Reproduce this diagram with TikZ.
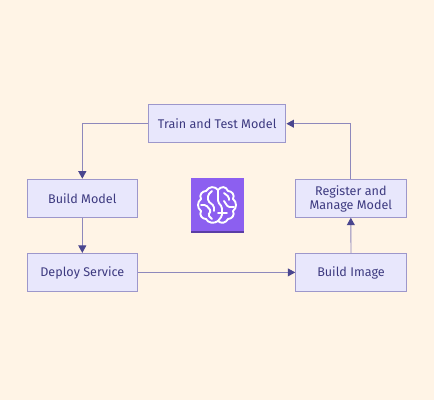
\documentclass[tikz,border=0pt]{standalone}
\usepackage{fontspec}
\setmainfont{Fira Sans}
\usetikzlibrary{arrows.meta}
\definecolor{bgc}{HTML}{FFF4E6}
\definecolor{boxf}{HTML}{E8E7FC}
\definecolor{boxs}{HTML}{9D97CB}
\definecolor{txtc}{HTML}{3D3A80}
\definecolor{linec}{HTML}{8E88BC}
\definecolor{tipc}{HTML}{4A468F}
\definecolor{iconf}{HTML}{8C5FF0}
\definecolor{icond}{HTML}{5A3DA6}
\newcommand{\lowstrut}{\rule[-0.5bp]{0pt}{11.5bp}}
\tikzset{
  x=1bp,y=-1bp,
  flowbox/.style={draw=boxs,fill=boxf,line width=1bp,text=txtc,minimum width=110.5bp,minimum height=38bp,inner sep=0pt,align=center,font=\fontsize{12.6bp}{14.5bp}\selectfont},
  link/.style={draw=linec,line width=0.9bp,-{Triangle[length=7.5bp,width=8bp,color=tipc]}},
  brain/.style={draw=white,line width=1.9bp,line cap=round,line join=round,rounded corners=1.5bp}
}
\begin{document}
\begin{tikzpicture}
\useasboundingbox (0,0) rectangle (434,400);
\fill[bgc] (0,0) rectangle (434,400);
\node[flowbox,minimum width=137.5bp] (train) at (217.2,123.7) {\lowstrut Train and Test Model};
\node[flowbox] (bm) at (82.3,198.2) {\lowstrut Build Model};
\node[flowbox] (ds) at (82.3,272.4) {\lowstrut Deploy Service};
\node[flowbox] (rm) at (350.8,198.2) {\rule{0pt}{11.5bp}Register and\\Manage Model};
\node[flowbox] (bi) at (351,272.4) {\lowstrut Build Image};
\draw[link] (train.west) -| (bm.north);
\draw[link] (bm.south) -- (ds.north);
\draw[link] (ds.east) -- (bi.west);
\draw[link] (bi.north) -- (rm.south);
\draw[link] (rm.north) |- (train.east);
\fill[iconf] (190.5,178) rectangle (243.5,231);
\fill[icond] (190.5,231) rectangle (243.5,233);
\begin{scope}[brain]
\draw[rounded corners=0pt] (218,190) .. controls (215,186) and (209,186) .. (206,191)
  .. controls (202,191) and (199,195) .. (201,199)
  .. controls (197,202) and (197,208) .. (201,211)
  .. controls (199,215) and (202,219) .. (206,219)
  .. controls (208,223) and (214,224) .. (218,221)
  .. controls (221,224) and (226,223) .. (228,219)
  .. controls (232,219) and (235,215) .. (233,211)
  .. controls (237,208) and (237,202) .. (233,199)
  .. controls (235,195) and (232,191) .. (228,191)
  .. controls (226,186) and (221,186) .. (218,190);
\draw (212,191) -- (208,195) -- (208,201) -- (214,206) -- (214,211);
\draw (201,205) -- (206,205) -- (211,211) -- (208,215) -- (212,219);
\draw (218,190) -- (218,202) -- (222,207) -- (222,216) -- (218,221);
\draw (224,193) -- (229,197) -- (229,200);
\draw (224,201) -- (228,207) -- (234,207);
\draw (218,213) -- (227,213);
\end{scope}
\end{tikzpicture}
\end{document}
